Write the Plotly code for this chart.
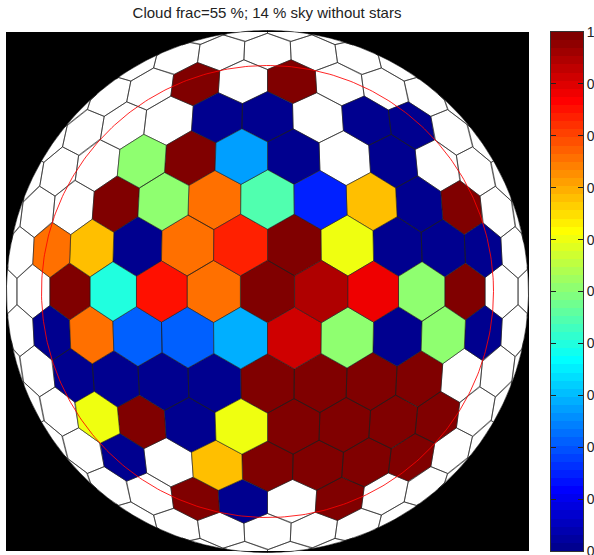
import numpy as np
import plotly.graph_objects as go

# ---------------- data ----------------
TITLE = "Cloud frac=55 %; 14 % sky without stars"

# hexagonal sky cells, rows from top (+5) to bottom (-5); 13 columns (i = -6 .. 6)
# odd rows are shifted by half a cell to the right; None = no value (white cell)
N = None
row_p5 = [N, N, N, N, 1.0, N, 1.0, N, N, N, N, N, N]
row_p4 = [N, N, N, N, N, 0.0, 0.0, N, 0.0, 0.0, N, N, N]
row_p3 = [N, N, N, 0.51, 1.0, 0.28, 0.0, N, 0.0, N, N, N, N]
row_p2 = [N, N, N, 1.0, 0.51, 0.76, 0.45, 0.15, 0.68, 0.0, 1.0, N, N]
row_p1 = [N, 0.76, 0.68, 0.0, 0.76, 0.83, 1.0, 0.60, 0.0, 0.0, 0.0, N, N]
row_00 = [N, N, 1.0, 0.40, 0.85, 0.76, 1.0, 0.945, 0.88, 0.51, 1.0, N, N]
row_m1 = [N, 0.0, 0.76, 0.215, 0.215, 0.29, 0.91, 0.51, 0.0, 0.51, 0.0, N, N]
row_m2 = [N, N, 0.0, 0.0, 0.0, 0.0, 1.0, 1.0, 1.0, 1.0, N, N, N]
row_m3 = [N, N, 0.60, 1.0, 0.0, 0.60, 1.0, 1.0, 1.0, 1.0, N, N, N]
row_m4 = [N, N, N, 0.0, N, 0.68, 1.0, 1.0, 1.0, 1.0, N, N, N]
row_m5 = [N, N, N, N, 1.0, 0.0, N, 1.0, N, N, N, N, N]
row_ids = [5, 4, 3, 2, 1, 0, -1, -2, -3, -4, -5]
rows = [row_p5, row_p4, row_p3, row_p2, row_p1, row_00,
        row_m1, row_m2, row_m3, row_m4, row_m5]

cbar_ticks = [0, 0.1, 0.2, 0.3, 0.4, 0.5, 0.6, 0.7, 0.8, 0.9, 1]
cbar_labels = ["0", "0.1", "0.2", "0.3", "0.4", "0.5", "0.6", "0.7", "0.8", "0.9", "1"]

# ---------------- geometry (image units = screen pixels) ----------------
W, H = 594, 555
CX, CY = 267.5, 291.5          # zenith position
R_PROJ = 296.4                 # projection scale
DEG_PER_CELL = 10.5            # angular spacing of cell centres
R_EDGE = 261.0                 # horizon clip radius
R_RED = 226.0                  # red reference circle
BOX = (6, 32, 529, 551)        # black image frame (x0, y0, x1, y1)
CBAR = (551, 32, 583, 551)     # colour bar frame
PLOT_W = 540

values = {}
for j, row in zip(row_ids, rows):
    for k, v in enumerate(row):
        values[(k - 6, j)] = v


def jet(v):
    r = np.clip(1.5 - abs(4 * v - 3), 0, 1)
    g = np.clip(1.5 - abs(4 * v - 2), 0, 1)
    b = np.clip(1.5 - abs(4 * v - 1), 0, 1)
    return "rgb(%d,%d,%d)" % (round(r * 255), round(g * 255), round(b * 255))


JET64 = [jet((k + 1) / 64) for k in range(64)]


def cmap(v):
    return JET64[min(int(v * 64), 63)]


def project(ux, uy):
    rho = np.hypot(ux, uy)
    if rho < 1e-9:
        return CX, CY
    ang = min(DEG_PER_CELL * rho, 90.0)
    r = R_PROJ * np.sin(np.radians(ang))
    return CX + r * ux / rho, CY - r * uy / rho


s = 1 / np.sqrt(3)
hex_off = [(0, s), (-0.5, s / 2), (-0.5, -s / 2), (0, -s), (0.5, -s / 2), (0.5, s / 2)]


def clipped_polygon(cx_u, cy_u):
    verts = [project(cx_u + dx, cy_u + dy) for dx, dy in hex_off]
    pts = []
    for a in range(6):
        x0, y0 = verts[a]
        x1, y1 = verts[(a + 1) % 6]
        n = max(2, int(np.hypot(x1 - x0, y1 - y0) / 1.0))
        for t in np.linspace(0, 1, n, endpoint=False):
            pts.append((x0 + (x1 - x0) * t, y0 + (y1 - y0) * t))
    pts = np.array(pts)
    d = np.hypot(pts[:, 0] - CX, pts[:, 1] - CY)
    if np.all(d > R_EDGE):
        return None
    f = np.where(d > R_EDGE, R_EDGE / d, 1.0)
    xs = CX + (pts[:, 0] - CX) * f
    ys = CY + (pts[:, 1] - CY) * f
    return list(xs) + [xs[0]], list(ys) + [ys[0]]


groups = {}
for j in range(-8, 9):
    for i in range(-9, 10):
        ux = i + (0.5 if j % 2 else 0.0)
        uy = j * np.sqrt(3) / 2
        if np.hypot(ux, uy) > 7.6:
            continue
        poly = clipped_polygon(ux, uy)
        if poly is None:
            continue
        v = values.get((i, j))
        col = "white" if v is None else cmap(v)
        gx, gy = groups.setdefault(col, ([], []))
        gx.extend(poly[0] + [None])
        gy.extend(poly[1] + [None])

fig = go.Figure()
order = ["white"] + [c for c in groups if c != "white"]
for col in order:
    if col not in groups:
        continue
    gx, gy = groups[col]
    fig.add_trace(go.Scatter(
        x=gx, y=gy, mode="lines", fill="toself", fillcolor=col,
        line=dict(color="rgba(30,30,30,0.6)", width=1),
        hoverinfo="skip", showlegend=False))

t = np.linspace(0, 2 * np.pi, 400)
fig.add_trace(go.Scatter(
    x=CX + R_RED * np.cos(t), y=CY + R_RED * np.sin(t), mode="lines",
    line=dict(color="rgba(255,0,0,0.85)", width=1), hoverinfo="skip", showlegend=False))

# colour bar
zc = [[k + 0.5] for k in range(64)]
yc = [(k + 0.5) / 64 for k in range(64)]
cscale = []
for k in range(64):
    cscale.append([k / 64, JET64[k]])
    cscale.append([(k + 1) / 64, JET64[k]])
fig.add_trace(go.Heatmap(z=zc, x=[0], y=yc, zmin=0, zmax=64, colorscale=cscale,
                         showscale=False, xaxis="x2", yaxis="y2", hoverinfo="skip"))

# black frame with the sky disk cut out
x0, y0, x1, y1 = BOX
path = "M%g,%g L%g,%g L%g,%g L%g,%g Z " % (x0, y0, x1, y0, x1, y1, x0, y1)
tt = np.linspace(0, -2 * np.pi, 361)
path += "M" + " L".join("%.2f,%.2f" % (CX + R_EDGE * np.cos(a), CY + R_EDGE * np.sin(a)) for a in tt) + " Z"
fig.add_shape(type="path", path=path, fillcolor="black", line=dict(width=0),
              layer="above", xref="x", yref="y")

font = "Liberation Sans, Arial, Helvetica, sans-serif"
cx0, cy0, cx1, cy1 = CBAR
fig.update_layout(
    width=W, height=H, margin=dict(l=0, r=0, t=0, b=0, autoexpand=False),
    paper_bgcolor="white", plot_bgcolor="white",
    title=dict(text=TITLE, x=267 / W, y=1 - 13 / H, xref="paper", yref="paper",
               xanchor="center", yanchor="middle", automargin=False,
               font=dict(family=font, size=15, color="#222")),
    xaxis=dict(domain=[0, PLOT_W / W], range=[0, PLOT_W], visible=False,
               fixedrange=True, automargin=False),
    yaxis=dict(domain=[0, 1], range=[H, 0], visible=False, fixedrange=True,
               automargin=False),
    xaxis2=dict(domain=[cx0 / W, cx1 / W], range=[-0.5, 0.5], anchor="y2",
                showline=True, linecolor="#333", linewidth=1, mirror=True,
                showticklabels=False, ticks="", showgrid=False, zeroline=False,
                automargin=False),
    yaxis2=dict(domain=[(H - cy1) / H, (H - cy0) / H], range=[0, 1], anchor="x2",
                side="right", tickvals=cbar_ticks, ticktext=cbar_labels,
                ticks="inside", ticklen=5, tickcolor="#222", mirror="ticks",
                showline=True, linecolor="#333", linewidth=1, showgrid=False,
                zeroline=False, automargin=False, ticklabeloverflow="allow",
                tickfont=dict(family=font, size=14, color="#222")),
)

fig.write_html("out.html")
